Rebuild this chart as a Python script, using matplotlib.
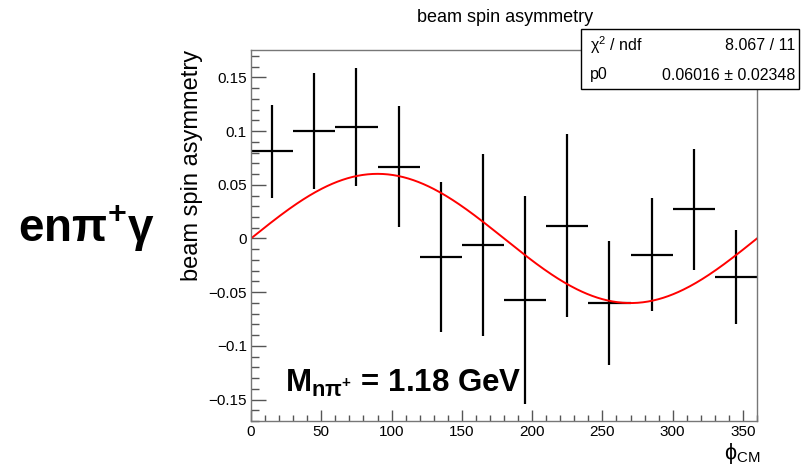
import numpy as np
import matplotlib
matplotlib.use('Agg')
import matplotlib.pyplot as plt
from matplotlib.ticker import MultipleLocator, FuncFormatter
from matplotlib.patches import Rectangle

plt.rcParams['font.family'] = ['Liberation Sans', 'DejaVu Sans']
plt.rcParams['mathtext.fontset'] = 'custom'
plt.rcParams['mathtext.rm'] = 'Liberation Sans'
plt.rcParams['mathtext.it'] = 'Liberation Sans:italic'
plt.rcParams['mathtext.bf'] = 'Liberation Sans:bold'

# bin centres (deg), asymmetry, stat errors
phi = [15, 45, 75, 105, 135, 165, 195, 225, 255, 285, 315, 345]
bsa = [0.081, 0.100, 0.104, 0.067, -0.017, -0.006, -0.057, 0.012, -0.060, -0.015, 0.027, -0.036]
bsa_err = [0.043, 0.054, 0.055, 0.056, 0.070, 0.085, 0.097, 0.085, 0.058, 0.053, 0.056, 0.044]
bin_halfwidth = 15

# fit p0*sin(phi)
p0 = 0.06016
p0_err = 0.02348
chi2 = 8.067
ndf = 11

fig = plt.figure(figsize=(8.01, 4.70), dpi=100)
ax = fig.add_axes([251/801, 1-421/470, (757-251)/801, (421-50)/470])

ax.errorbar(phi, bsa, xerr=bin_halfwidth, yerr=bsa_err, fmt='none',
            ecolor='black', elinewidth=1.6, capsize=0)
xx = np.linspace(0, 360, 400)
ax.plot(xx, p0*np.sin(np.radians(xx)), color='red', lw=1.4)

ax.set_xlim(0, 360)
ax.set_ylim(-0.170, 0.1755)
ax.xaxis.set_major_locator(MultipleLocator(50))
ax.xaxis.set_minor_locator(MultipleLocator(10))
ax.yaxis.set_major_locator(MultipleLocator(0.05))
ax.yaxis.set_minor_locator(MultipleLocator(0.01))
ax.yaxis.set_major_formatter(FuncFormatter(lambda v, p: ('%g' % round(v, 3)).replace('-', '\u2212')))

for s in ax.spines.values():
    s.set_color('#777777')
    s.set_linewidth(1.0)
ax.tick_params(which='both', direction='in', top=False, right=False,
               color='#555555', labelsize=11, width=1.0)
ax.tick_params(axis='y', which='major', length=11, pad=3)
ax.tick_params(axis='y', which='minor', length=5.5)
ax.tick_params(axis='x', which='major', length=8, pad=3)
ax.tick_params(axis='x', which='minor', length=4)

ax.set_ylabel('beam spin asymmetry', fontsize=17, loc='top', labelpad=4)
fig.text(760/801, 1-459/470, r'$\mathrm{\phi_{CM}}$', ha='right', va='baseline', fontsize=15.5)
fig.text(505/801, 1-18/470, 'beam spin asymmetry', ha='center', va='center', fontsize=13)

fig.text(18/801, 1-228/470, r'$\mathbf{en\pi^{+}\gamma}$', ha='left', va='center', fontsize=33)
fig.text(285/801, 1-383/470, r'$\mathbf{M_{n\pi^{+}}}$ = 1.18 GeV',
         ha='left', va='center', fontsize=22.5, fontweight='bold')

# stats box
fig.patches.append(Rectangle((581/801, 1-89/470), (799-581)/801, 60/470,
                             transform=fig.transFigure, facecolor='white',
                             edgecolor='black', lw=1.0, zorder=5))
fig.text(590/801, 1-45/470, r'$\mathrm{\chi^{2}}$ / ndf', ha='left', va='center', fontsize=11.5, zorder=6)
fig.text(795/801, 1-45/470, '%.3f / %d' % (chi2, ndf), ha='right', va='center', fontsize=11.5, zorder=6)
fig.text(590/801, 1-75/470, 'p0', ha='left', va='center', fontsize=11.5, zorder=6)
fig.text(795/801, 1-75/470, '%.5f \u00b1 %.5f' % (p0, p0_err), ha='right', va='center', fontsize=11.5, zorder=6)

fig.savefig('out.png', dpi=100)
